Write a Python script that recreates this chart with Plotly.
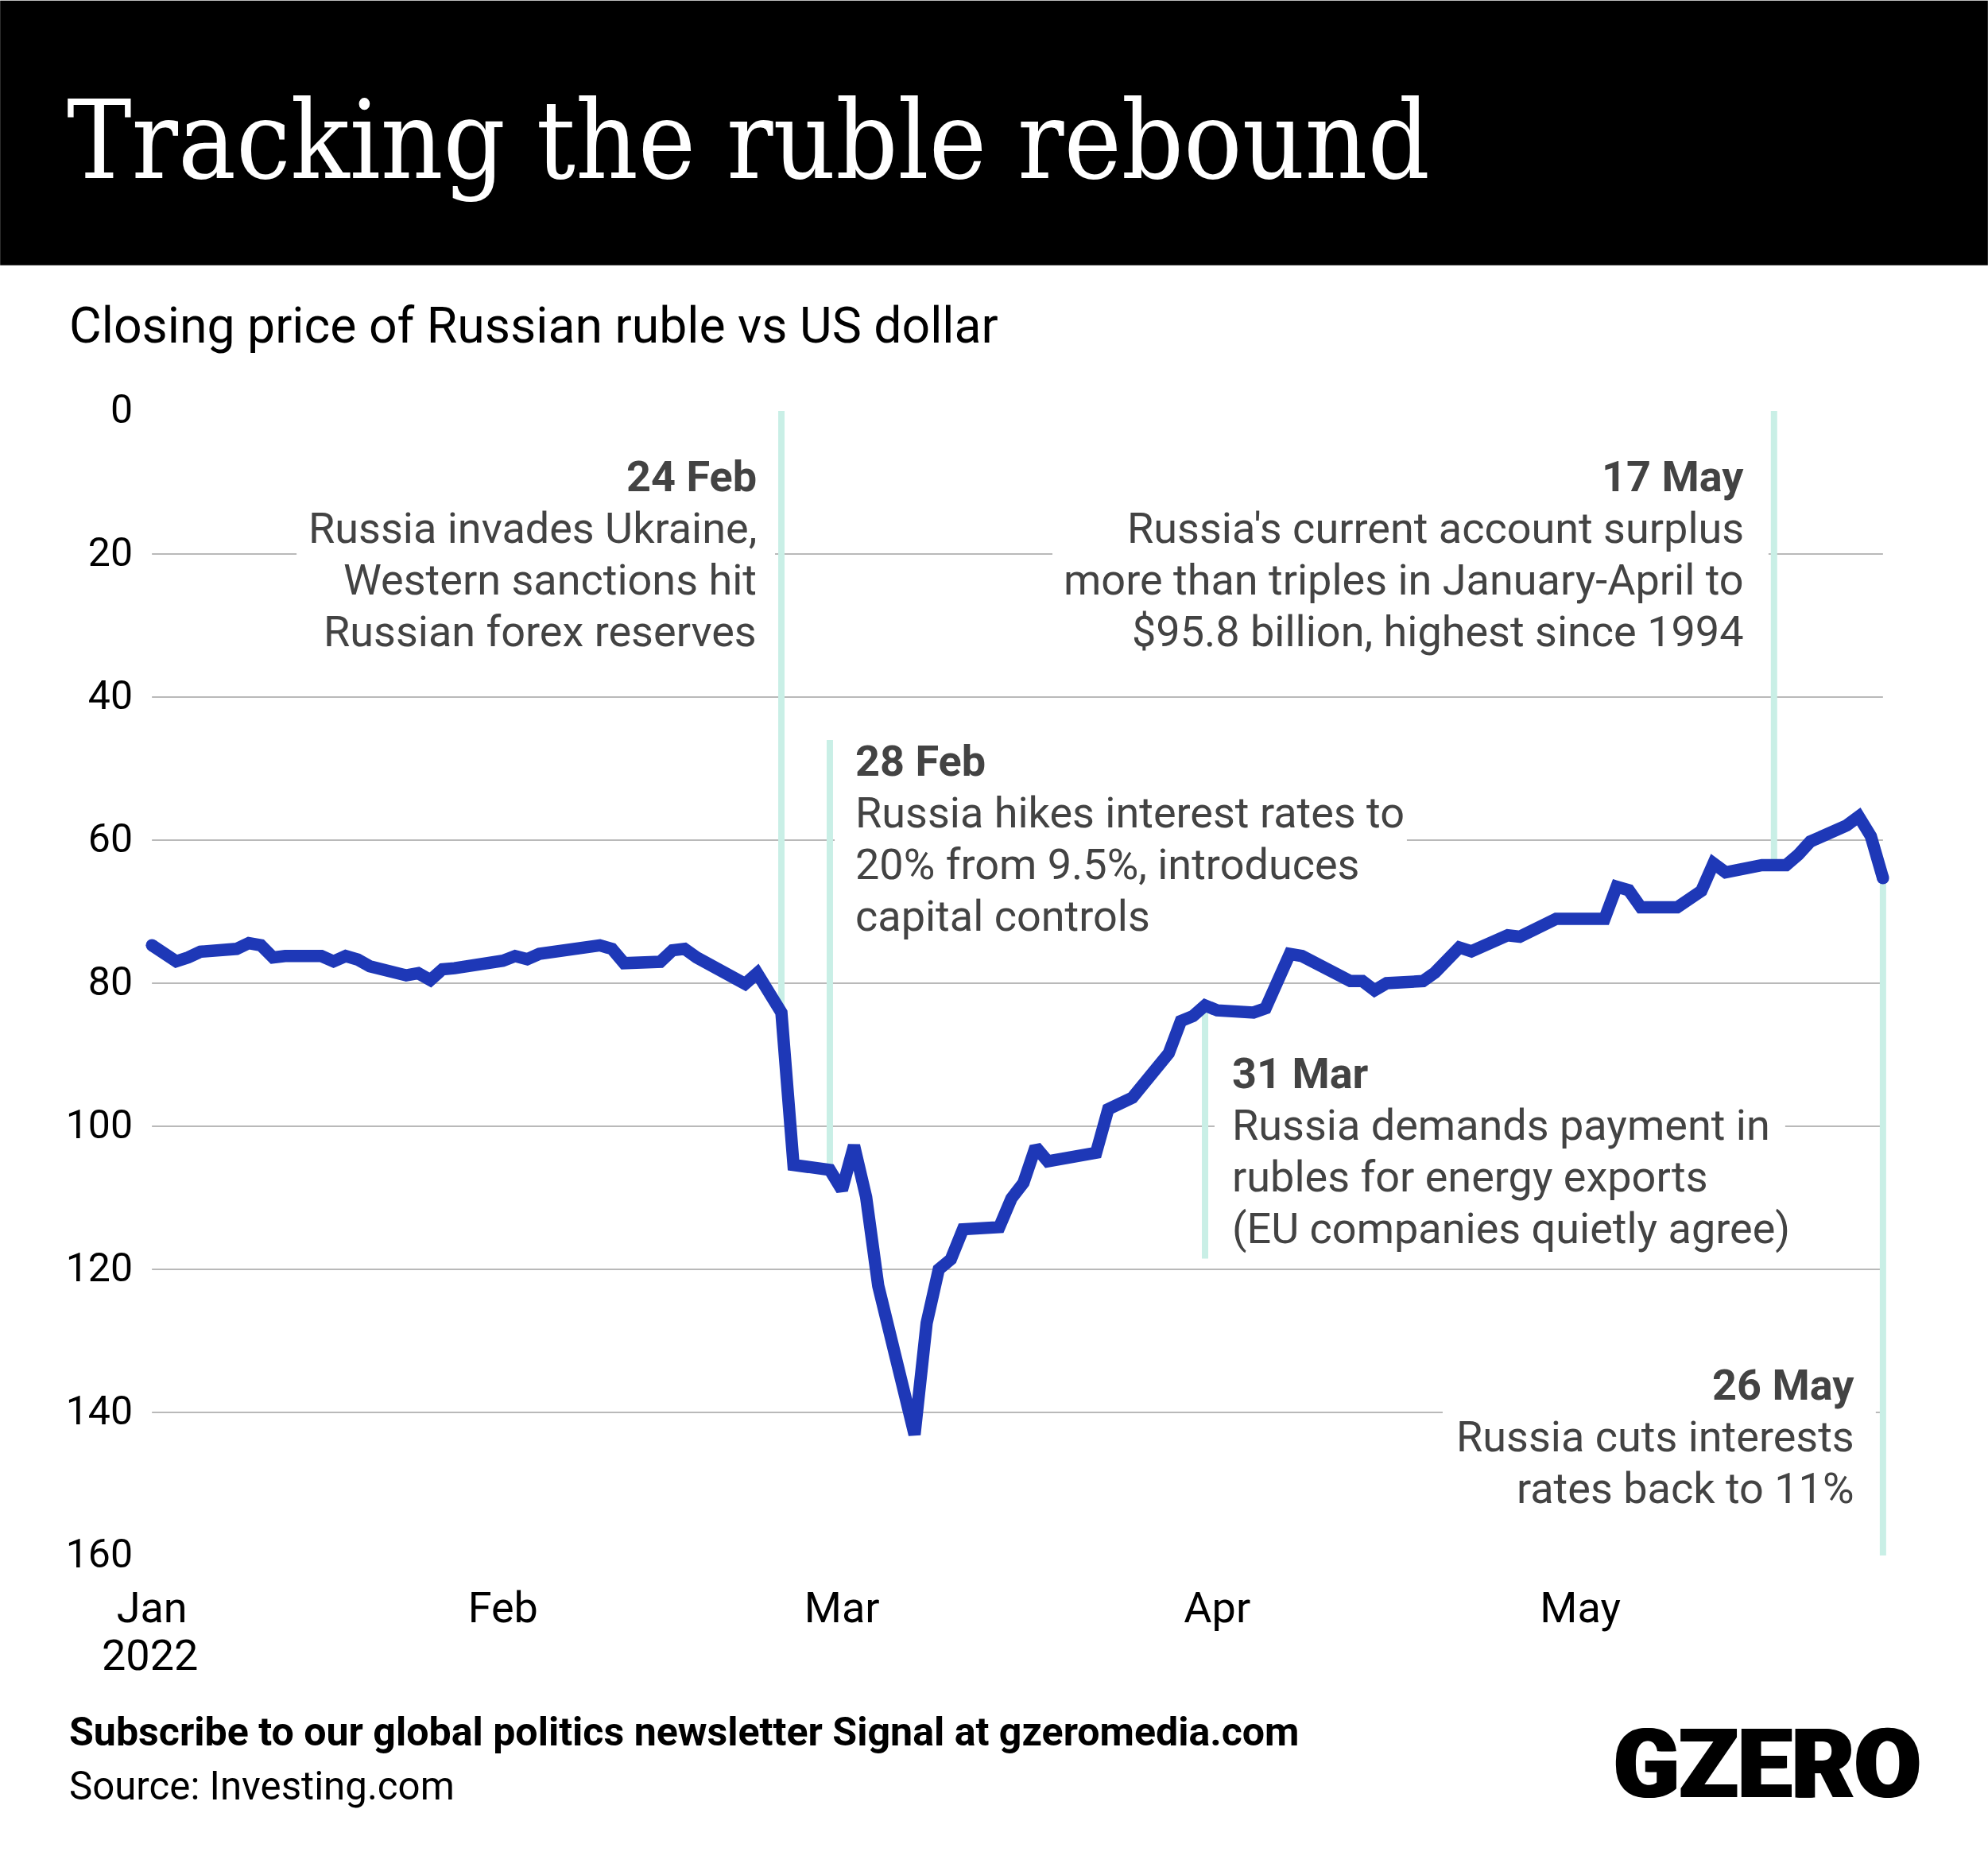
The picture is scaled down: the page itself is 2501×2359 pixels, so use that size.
import pandas as pd
import plotly.graph_objects as go

# closing price
dates = ["2022-01-03", "2022-01-04", "2022-01-05", "2022-01-06", "2022-01-07", "2022-01-10", "2022-01-11",
         "2022-01-12", "2022-01-13", "2022-01-14", "2022-01-17", "2022-01-18", "2022-01-19", "2022-01-20",
         "2022-01-21", "2022-01-24", "2022-01-25", "2022-01-26", "2022-01-27", "2022-01-28", "2022-01-31",
         "2022-02-01", "2022-02-02", "2022-02-03", "2022-02-04", "2022-02-07", "2022-02-08", "2022-02-09",
         "2022-02-10", "2022-02-11", "2022-02-14", "2022-02-15", "2022-02-16", "2022-02-17", "2022-02-21",
         "2022-02-22", "2022-02-24", "2022-02-25", "2022-02-28", "2022-03-01", "2022-03-02", "2022-03-03",
         "2022-03-04", "2022-03-07", "2022-03-08", "2022-03-09", "2022-03-10", "2022-03-11", "2022-03-14",
         "2022-03-15", "2022-03-16", "2022-03-17", "2022-03-18", "2022-03-21", "2022-03-22", "2022-03-23",
         "2022-03-24", "2022-03-25", "2022-03-28", "2022-03-29", "2022-03-30", "2022-03-31", "2022-04-01",
         "2022-04-04", "2022-04-05", "2022-04-07", "2022-04-08", "2022-04-11", "2022-04-12", "2022-04-13",
         "2022-04-14", "2022-04-15", "2022-04-18", "2022-04-19", "2022-04-20", "2022-04-21", "2022-04-22",
         "2022-04-25", "2022-04-26", "2022-04-28", "2022-04-29", "2022-05-03", "2022-05-04", "2022-05-05",
         "2022-05-06", "2022-05-09", "2022-05-11", "2022-05-12", "2022-05-13", "2022-05-16", "2022-05-18",
         "2022-05-19", "2022-05-20", "2022-05-23", "2022-05-24", "2022-05-25", "2022-05-26"]
closes = [74.7, 75.6, 76.95, 76.4, 75.6, 75.2, 74.4,
          74.7, 76.4, 76.2, 76.2, 76.95, 76.2, 76.7,
          77.65, 78.9, 78.6, 79.55, 78.05, 77.9, 77.4,
          76.85, 76.2, 76.65, 75.9, 75.4, 74.9, 74.7,
          75.2, 77.2, 77.0, 75.4, 75.2, 76.4, 80.1,
          78.6, 84.1, 105.4, 106.1, 108.9, 102.7, 109.9,
          122.3, 143.1, 127.5, 120.0, 118.6, 114.4, 114.1,
          110.1, 107.9, 102.9, 104.9, 104.2, 103.7, 97.6,
          97.0, 96.0, 89.8, 85.3, 84.6, 83.1, 83.8,
          84.1, 83.5, 75.9, 76.2, 79.0, 79.7, 79.7,
          81.0, 80.0, 79.7, 78.5, 76.5, 75.0, 75.55,
          73.3, 73.5, 72.0, 71.0, 71.0, 66.5, 67.0,
          69.4, 69.4, 67.1, 63.25, 64.5, 63.5, 63.5,
          62.05, 60.2, 57.95, 56.7, 59.45, 65.3]

# event markers
event_dates = ["2022-02-24", "2022-02-28", "2022-03-31", "2022-05-17", "2022-05-26"]
event_tops = [0, 46, 83, 0, 65]
event_bottoms = [84, 106, 118.5, 63.5, 160]
event_heads = ["24 Feb", "28 Feb", "31 Mar", "17 May", "26 May"]
event_bodies = [["Russia invades Ukraine,", "Western sanctions hit", "Russian forex reserves"],
                ["Russia hikes interest rates to", "20% from 9.5%, introduces", "capital controls"],
                ["Russia demands payment in", "rubles for energy exports", "(EU companies quietly agree)"],
                ["Russia's current account surplus", "more than triples in January-April to",
                 "$95.8 billion, highest since 1994"],
                ["Russia cuts interests", "rates back to 11%"]]

y_ticks = [0, 20, 40, 60, 80, 100, 120, 140, 160]
x_ticks = ["2022-01-03", "2022-02-01", "2022-03-01", "2022-04-01", "2022-05-01"]
x_labels = ["Jan", "Feb", "Mar", "Apr", "May"]

W, H = 2501, 2359
# plot area is a bit wider than the gridlines, lines get clipped at the axis ends otherwise
L, R, T, B = 180.85, 2379.15, 516.5, 1957.5
X_START, X_END = pd.Timestamp("2022-01-02 08:00"), pd.Timestamp("2022-05-26 16:00")
LINE_GAP = 65


def px(x):
    return (x - L) / (R - L)


def py(y):
    return (B - y) / (B - T)


def page_text(x, y, text, size, color="#000000", family="Roboto", anchor="left", weight=None, shadow=None):
    fig.add_annotation(xref="paper", yref="paper", x=px(x), y=py(y), text=text, showarrow=False,
                       xanchor=anchor, yanchor="middle", align=anchor,
                       font=dict(family=family, size=size, color=color, weight=weight, shadow=shadow))


fig = go.Figure()

for d, top, bottom in zip(event_dates, event_tops, event_bottoms):
    fig.add_trace(go.Scatter(x=[d, d], y=[top, bottom], mode="lines",
                             line=dict(color="#c9efe6", width=8), hoverinfo="skip"))

end_sizes = [15.5] + [0] * (len(closes) - 2) + [15.5]
fig.add_trace(go.Scatter(x=dates, y=closes, mode="lines+markers",
                         line=dict(color="#1e38b7", width=15.5),
                         marker=dict(color="#1e38b7", size=end_sizes, opacity=1, line=dict(width=0))))

# header band
fig.add_shape(type="rect", xref="paper", yref="paper", x0=px(0), x1=px(W), y0=py(333), y1=py(0),
              fillcolor="#000000", line_width=0, layer="below")

# white boxes behind the notes cut the gridlines, the two strips trim their ends
# "between" only works with real axis refs, so the page pixels go through the axis ranges
note_boxes = [(373, 975, 574, 821), (1050, 1770, 933, 1180), (1528, 2246, 1324, 1579),
              (1324, 2225, 574, 821), (1815, 2360, 1715, 1906),
              (L, 191, T - 5, B + 5), (2369, R, T - 5, B + 5)]
for x0, x1, y0, y1 in note_boxes:
    fig.add_shape(type="rect", xref="x", yref="y", layer="between",
                  x0=X_START + (X_END - X_START) * px(x0), x1=X_START + (X_END - X_START) * px(x1),
                  y0=160 * (1 - py(y0)), y1=160 * (1 - py(y1)),
                  fillcolor="#ffffff", line_width=0)

page_text(82, 176, "Tracking the ruble rebound", 136, color="#ffffff", family="DejaVu Serif Condensed")
page_text(85, 409, "Closing price of Russian ruble vs US dollar", 62.5)
page_text(85, 2180, "<b>Subscribe to our global politics newsletter Signal at gzeromedia.com</b>", 50.1)
page_text(85, 2248, "Source: Investing.com", 49.2)
page_text(2419, 2221, "GZERO", 121, family="Roboto Black", anchor="right", weight=900,
          shadow="2px 0 0 #000000, -2px 0 0 #000000")

note_spots = [(954, 599, "right"), (1074, 957, "left"), (1548, 1351, "left"),
              (2196, 599, "right"), (2335, 1743, "right")]
for (x, y, anchor), head, body in zip(note_spots, event_heads, event_bodies):
    page_text(x, y, "<b>" + head + "</b>", 54, color="#434343", anchor=anchor)
    for i, line in enumerate(body):
        page_text(x, y + LINE_GAP * (i + 1), line, 54, color="#434343", anchor=anchor)

# year under the first month
fig.add_annotation(xref="x", yref="paper", x=x_ticks[0], y=py(2083), xshift=-3, text="2022", showarrow=False,
                   xanchor="center", yanchor="middle", font=dict(family="Roboto", size=54, color="#000000"))

fig.update_layout(width=W, height=H, margin=dict(l=L, r=W - R, t=T, b=H - B, pad=0),
                  paper_bgcolor="#ffffff", plot_bgcolor="#ffffff", showlegend=False,
                  font=dict(family="Roboto", color="#000000"))
fig.update_xaxes(type="date", range=[X_START, X_END], tickmode="array", tickvals=x_ticks,
                 ticktext=x_labels, tickangle=0, showgrid=False, zeroline=False, showline=False, ticks="",
                 ticklabelstandoff=29, tickfont=dict(size=54, color="#000000"))
fig.update_yaxes(range=[160, 0], tickmode="array", tickvals=y_ticks, showgrid=True, gridcolor="#b9b9b9",
                 gridwidth=2, zeroline=False, showline=False, ticks="", ticklabelstandoff=13, ticklabelshift=3,
                 tickfont=dict(size=50, color="#000000"))

fig.write_html("out.html", config=dict(displayModeBar=False), post_script="document.body.style.margin='0';")
